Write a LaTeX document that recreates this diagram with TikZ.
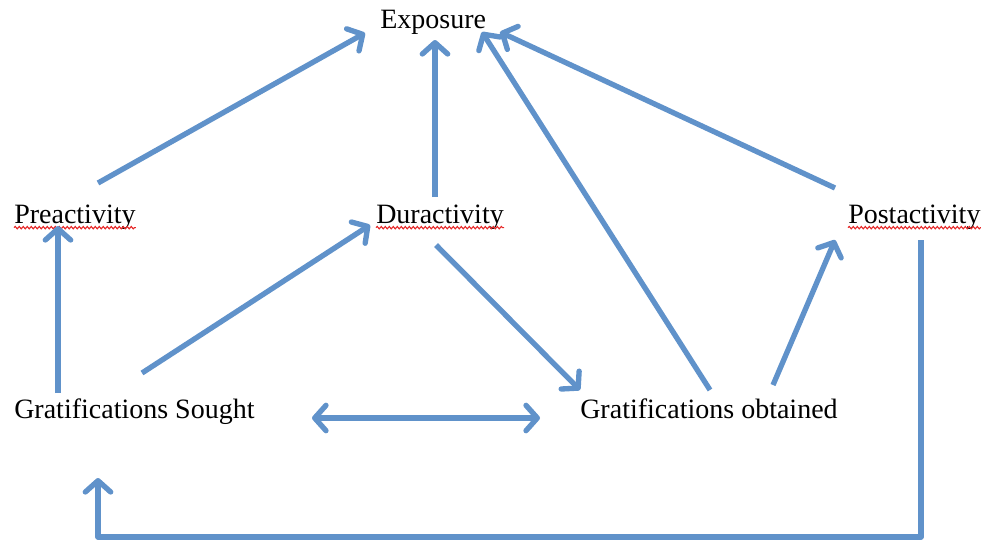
\documentclass[tikz,border=0pt]{standalone}
\usepackage{fontspec}
\setmainfont{Liberation Serif}
\usetikzlibrary{arrows.meta,decorations.pathmorphing}
\definecolor{arrowblue}{RGB}{96,146,202}
\definecolor{spellred}{RGB}{230,40,40}
\begin{document}
\begin{tikzpicture}[x=0.75pt,y=-0.75pt,
  tip/.tip={Straight Barb[length=8.5pt,width=19pt,line join=round,line cap=round]},
  lbl/.style={inner sep=0pt,anchor=base west,font=\fontsize{21}{25}\selectfont},
  conn/.style={draw=arrowblue,line width=4pt,line join=round,-tip},
  biconn/.style={conn,tip-tip},
  spell/.style={draw=spellred,line width=0.8pt,decorate,
    decoration={snake,amplitude=0.9pt,segment length=3pt}}]
\useasboundingbox (0,0) rectangle (987,544);
% labels
\node[lbl] (exp) at (380,28) {Exposure};
\node[lbl] (pre) at (14,223) {Preactivity};
\node[lbl] (dur) at (376,223) {Duractivity};
\node[lbl] (post) at (848,223) {Postactivity};
\node[lbl] (gs) at (14,418) {Gratifications Sought};
\node[lbl] (go) at (580,418) {Gratifications obtained};
% spell-check underlines
\draw[spell] ([yshift=-3.5pt]pre.base west) -- ([yshift=-3.5pt]pre.base east);
\draw[spell] ([yshift=-3.5pt]dur.base west) -- ([yshift=-3.5pt]dur.base east);
\draw[spell] ([yshift=-3.5pt]post.base west) -- ([yshift=-3.5pt]post.base east);
% connector end points
\coordinate (preTop) at (98,183);
\coordinate (expL) at (365,33);
\coordinate (durTop) at (435,197);
\coordinate (expM) at (435,40);
\coordinate (goTop) at (710,390);
\coordinate (expR) at (482,32);
\coordinate (postTop) at (835,188);
\coordinate (expRR) at (500,32);
\coordinate (gsTop) at (58,393);
\coordinate (preBot) at (58,226);
\coordinate (gsTopR) at (142,373);
\coordinate (durBotL) at (370,225);
\coordinate (durBot) at (436,245);
\coordinate (goTopL) at (580,390);
\coordinate (goTopR) at (773,385);
\coordinate (postBotL) at (835,240);
\coordinate (gsR) at (312,418);
\coordinate (goL) at (540,418);
\coordinate (postBot) at (921,240);
\coordinate (gsBot) at (98,478);
% connectors
\draw[conn] (preTop) -- (expL);
\draw[conn] (durTop) -- (expM);
\draw[conn] (goTop) -- (expR);
\draw[conn] (postTop) -- (expRR);
\draw[conn] (gsTop) -- (preBot);
\draw[conn] (gsTopR) -- (durBotL);
\draw[conn] (durBot) -- (goTopL);
\draw[conn] (goTopR) -- (postBotL);
\draw[biconn] (gsR) -- (goL);
\draw[conn] (postBot) |- (98,537) -- (gsBot);
\end{tikzpicture}
\end{document}
